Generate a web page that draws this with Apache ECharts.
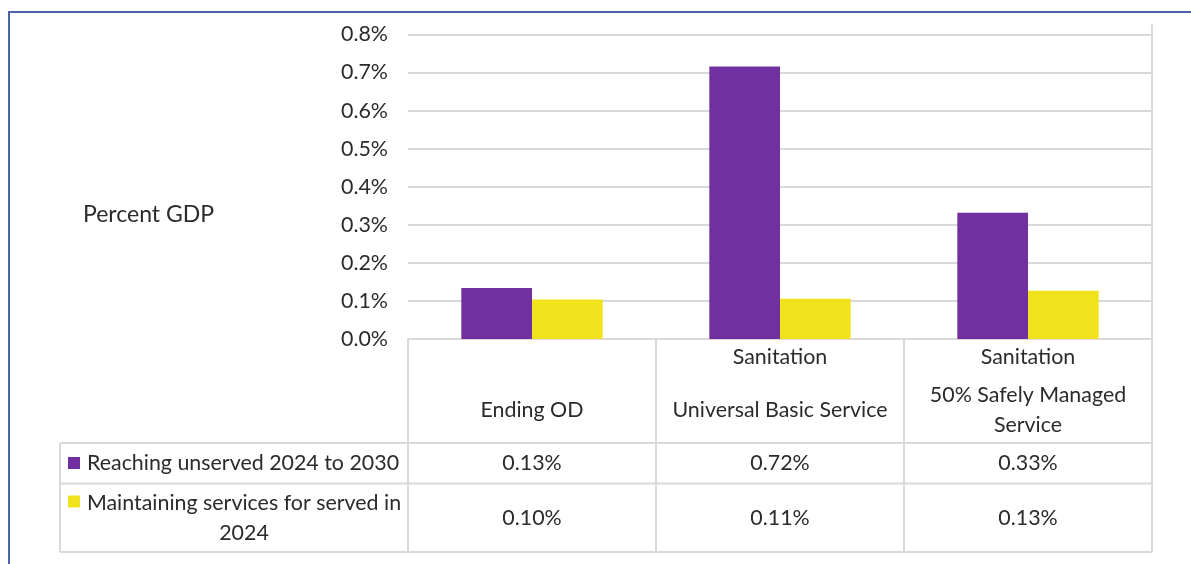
<!DOCTYPE html>
<html><head><meta charset="utf-8">
<script src="https://cdn.jsdelivr.net/npm/echarts@6/dist/echarts.min.js"></script>
<style>html,body{margin:0;padding:0;background:#fff}#c{width:1191px;height:564px}</style>
</head><body><div id="c"></div>
<script>
// ---- data ----
const categoryGroups = ["", "Sanitation", "Sanitation"];
const categoryNames = ["Ending OD", "Universal Basic Service", "50% Safely Managed\nService"];
const seriesNames = ["Reaching unserved 2024 to 2030", "Maintaining services for served in\n2024"];
const reachingUnserved = [0.134, 0.716, 0.332];
const maintainingServed = [0.104, 0.106, 0.127];
const yAxisTitle = "Percent GDP";
const yMin = 0, yMax = 0.8, yStep = 0.1;
const colors = ["#7030a0", "#f0e31b"];

// ---- layout ----
const W = 1191, H = 564;
const G = {left: 408, right: 1152, top: 34.5, bottom: 339};
const rowLines = [339, 443, 483.5, 552];
const tableLeft = 60;
const lineColor = "#d9d9d9";
const textColor = "#2b2b2b";
const FONT = "Lato, 'Open Sans', sans-serif";
const FS = 21.4;

const fmtPct = v => (Math.round(v * 100) / 100).toFixed(2) + "%";

const chart = echarts.init(document.getElementById('c'), null, {renderer: 'canvas'});
chart.setOption({
  animation: false,
  backgroundColor: '#fff',
  grid: {left: G.left, right: W - G.right, top: G.top, bottom: H - G.bottom, containLabel: false},
  xAxis: {
    type: 'category', data: categoryNames,
    axisLine: {show: true, lineStyle: {color: lineColor, width: 2}},
    axisTick: {show: false}, axisLabel: {show: false}, splitLine: {show: false}
  },
  yAxis: {
    type: 'value', min: yMin, max: yMax, interval: yStep,
    axisLine: {show: false}, axisTick: {show: false},
    splitLine: {lineStyle: {color: lineColor, width: 2}},
    axisLabel: {formatter: v => v.toFixed(1) + '%', color: textColor, fontSize: FS, fontFamily: FONT, margin: 20}
  },
  series: [
    {name: seriesNames[0], type: 'bar', data: reachingUnserved, itemStyle: {color: colors[0]}, barGap: '0%', barCategoryGap: '43%'},
    {name: seriesNames[1], type: 'bar', data: maintainingServed, itemStyle: {color: colors[1]}, barGap: '0%', barCategoryGap: '43%'}
  ]
});

// ---- table drawn as graphics ----
const colW = (G.right - G.left) / categoryNames.length;
const els = [];
const line = (x1, y1, x2, y2) => els.push({type: 'line', shape: {x1, y1, x2, y2}, style: {stroke: lineColor, lineWidth: 2}, silent: true});
const text = (str, x, y, align, size) => els.push({type: 'text', x, y, style: {text: str, fill: textColor, font: (size || FS) + 'px ' + FONT, align: align || 'center', verticalAlign: 'middle', lineHeight: 30}, silent: true});

// outer frame
els.push({type: 'rect', shape: {x: 9, y: 12, width: W + 20, height: H + 20}, style: {fill: 'none', stroke: '#4a64ad', lineWidth: 2}, silent: true});

// horizontal lines
line(G.left, rowLines[0], G.right, rowLines[0]);
for (let i = 1; i < rowLines.length; i++) line(tableLeft, rowLines[i], G.right, rowLines[i]);
// vertical lines
line(tableLeft, rowLines[1], tableLeft, rowLines[3]);
for (let i = 0; i <= categoryNames.length; i++) {
  const x = G.left + colW * i;
  line(x, i === categoryNames.length ? G.top - 10 : rowLines[0], x, rowLines[3]);
}
// header
categoryNames.forEach((name, i) => {
  const cx = G.left + colW * (i + 0.5);
  if (categoryGroups[i]) text(categoryGroups[i], cx, 357);
  text(name, cx, 410);
});
// rows
const rows = [reachingUnserved, maintainingServed];
rows.forEach((vals, r) => {
  const yc = (rowLines[r + 1] + rowLines[r + 2]) / 2;
  vals.forEach((v, i) => text(fmtPct(v), G.left + colW * (i + 0.5), yc));
});
// legend keys in row headers
els.push({type: 'rect', shape: {x: 68, y: rowLines[1] + 14, width: 12, height: 12}, style: {fill: colors[0]}, silent: true});
text(seriesNames[0], 87, (rowLines[1] + rowLines[2]) / 2, 'left');
els.push({type: 'rect', shape: {x: 68, y: rowLines[2] + 12, width: 12, height: 12}, style: {fill: colors[1]}, silent: true});
text(seriesNames[1], 244, (rowLines[2] + rowLines[3]) / 2, 'center');
// y axis title
text(yAxisTitle, 83, 215, 'left', 23);

chart.setOption({graphic: {elements: els}});
</script></body></html>
